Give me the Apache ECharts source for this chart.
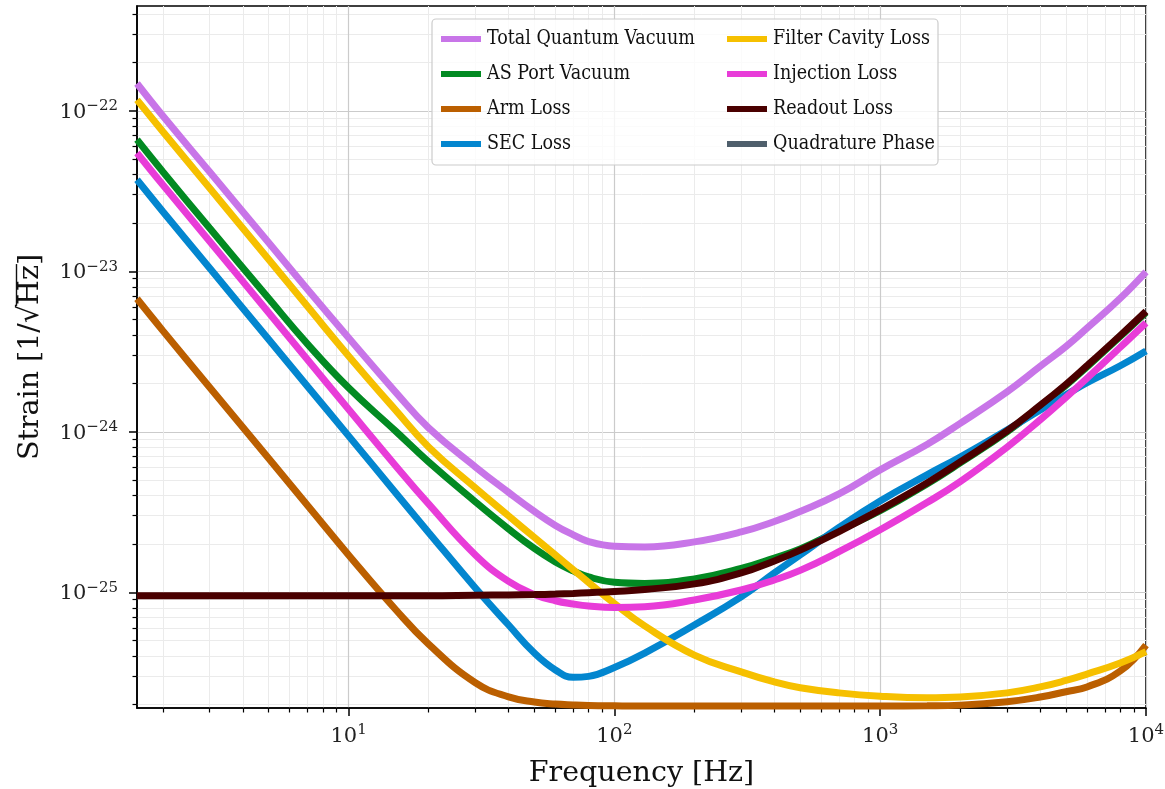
<!DOCTYPE html>
<html>
<head>
<meta charset="utf-8">
<script src="https://cdn.jsdelivr.net/npm/echarts@6/dist/echarts.min.js"></script>
<style>
  html, body { margin: 0; padding: 0; background: #fff; }
  #chart { width: 1165px; height: 789px; }
</style>
</head>
<body>
<div id="chart"></div>
<script>
// frequencies (Hz) where the curves were read
const freq = [1.6, 2, 3, 5, 7, 10, 15, 20, 30, 40, 50, 60, 70, 80, 100, 130, 200, 300, 400, 500, 700, 1000, 1500, 2000, 3000, 4000, 5000, 6000, 8000, 10000];

// strain noise, 1/sqrt(Hz)
const totalVac = [1.48e-22, 9.31e-23, 4.17e-23, 1.51e-23, 7.72e-24, 3.85e-24, 1.774e-24, 1.058e-24, 6.04e-25, 4.19e-25, 3.19e-25, 2.61e-25, 2.28e-25, 2.07e-25, 1.935e-25, 1.916e-25, 2.06e-25, 2.376e-25, 2.76e-25, 3.19e-25, 4.10e-25, 5.79e-25, 8.34e-25, 1.129e-24, 1.774e-24, 2.56e-24, 3.40e-24, 4.42e-24, 6.79e-24, 9.93e-24];
const asPort = [6.61e-23, 4.18e-23, 1.86e-23, 6.79e-24, 3.53e-24, 1.878e-24, 1.013e-24, 6.49e-25, 3.66e-25, 2.48e-25, 1.875e-25, 1.545e-25, 1.358e-25, 1.245e-25, 1.154e-25, 1.135e-25, 1.21e-25, 1.407e-25, 1.636e-25, 1.862e-25, 2.43e-25, 3.22e-25, 4.73e-25, 6.40e-25, 9.99e-25, 1.44e-24, 1.947e-24, 2.54e-24, 3.93e-24, 5.55e-24];
const armLoss = [6.74e-24, 4.27e-24, 1.897e-24, 6.83e-25, 3.48e-25, 1.708e-25, 7.84e-26, 4.75e-26, 2.73e-26, 2.23e-26, 2.07e-26, 2.01e-26, 1.985e-26, 1.97e-26, 1.96e-26, 1.954e-26, 1.954e-26, 1.954e-26, 1.954e-26, 1.954e-26, 1.954e-26, 1.954e-26, 1.96e-26, 1.98e-26, 2.08e-26, 2.225e-26, 2.40e-26, 2.57e-26, 3.23e-26, 4.69e-26];
const secLoss = [3.72e-23, 2.36e-23, 1.047e-23, 3.77e-24, 1.92e-24, 9.43e-25, 4.19e-25, 2.36e-25, 1.064e-25, 6.25e-26, 4.18e-26, 3.28e-26, 2.95e-26, 2.99e-26, 3.40e-26, 4.18e-26, 6.25e-26, 9.35e-26, 1.319e-25, 1.708e-25, 2.535e-25, 3.71e-25, 5.39e-25, 6.97e-25, 1.027e-24, 1.369e-24, 1.70e-24, 2.02e-24, 2.58e-24, 3.19e-24];
const filterCav = [1.17e-22, 7.43e-23, 3.30e-23, 1.188e-23, 6.05e-24, 2.97e-24, 1.369e-24, 8.05e-25, 4.47e-25, 2.99e-25, 2.196e-25, 1.708e-25, 1.381e-25, 1.151e-25, 8.51e-26, 6.17e-26, 4.06e-26, 3.19e-26, 2.76e-26, 2.54e-26, 2.36e-26, 2.25e-26, 2.20e-26, 2.225e-26, 2.36e-26, 2.57e-26, 2.82e-26, 3.09e-26, 3.62e-26, 4.26e-26];
const injection = [5.46e-23, 3.46e-23, 1.54e-23, 5.53e-24, 2.82e-24, 1.38e-24, 6.17e-25, 3.55e-25, 1.708e-25, 1.168e-25, 9.69e-26, 8.85e-26, 8.45e-26, 8.21e-26, 8.04e-26, 8.13e-26, 8.95e-26, 1.033e-25, 1.193e-25, 1.368e-25, 1.79e-25, 2.45e-25, 3.62e-25, 4.89e-25, 8.01e-25, 1.188e-24, 1.641e-24, 2.156e-24, 3.36e-24, 4.77e-24];
const readout = [9.52e-26, 9.52e-26, 9.52e-26, 9.52e-26, 9.52e-26, 9.52e-26, 9.52e-26, 9.52e-26, 9.58e-26, 9.62e-26, 9.67e-26, 9.74e-26, 9.83e-26, 9.93e-26, 1.012e-25, 1.041e-25, 1.127e-25, 1.319e-25, 1.567e-25, 1.83e-25, 2.39e-25, 3.27e-25, 4.80e-25, 6.49e-25, 1.013e-24, 1.461e-24, 1.975e-24, 2.58e-24, 3.98e-24, 5.63e-24];
const quadPhase = []; // stays below the plotted range

const names = ['Total Quantum Vacuum', 'AS Port Vacuum', 'Arm Loss', 'SEC Loss',
               'Filter Cavity Loss', 'Injection Loss', 'Readout Loss', 'Quadrature Phase'];
const colors = ['#c875e8', '#028a22', '#bb5f00', '#0386cf', '#f6c000', '#e83cd8', '#4a0000', '#4f5f6c'];
const values = [totalVac, asPort, armLoss, secLoss, filterCav, injection, readout, quadPhase];

// ECharts rounds tiny log-axis ticks to zero, so the y axis works in units of 1e-26
const yUnit = 1e-26;
const yUnitExp = -26;

const xMajor = [10, 100, 1000, 10000];
const yMajor = [10, 100, 1000, 10000];  // 1e-25 ... 1e-22
const xMin = 1.6, xMax = 10000;
const yMin = 1.9, yMax = 45000;         // 1.9e-26 ... 4.5e-22

function minorTicks(lo, hi) {
  const out = [];
  for (let e = Math.floor(Math.log10(lo)); e <= Math.ceil(Math.log10(hi)); e++) {
    for (let m = 2; m <= 9; m++) {
      const v = Number((m * Math.pow(10, e)).toPrecision(3));
      if (v >= lo && v <= hi) out.push(v);
    }
  }
  return out;
}

const FONT = "'DejaVu Serif', serif";
const LFONT = "'DejaVu Serif Condensed', 'DejaVu Serif', serif";
const rich = {
  b: { fontFamily: FONT, fontSize: 21, lineHeight: 24, color: '#222', verticalAlign: 'bottom' },
  s: { fontFamily: FONT, fontSize: 15, lineHeight: 15, color: '#222', verticalAlign: 'top' }
};
function xLabel(v) {
  return '{b|10}{s|' + Math.round(Math.log10(v)) + '}';
}
function yLabel(v) {
  const e = Math.round(Math.log10(v)) + yUnitExp;
  return '{b|10}{s|' + (e < 0 ? '\u2212' + (-e) : e) + '}';
}

// y title with a bar over "Hz" under the root sign
const yTitleHead = 'Strain [1/\u221A';
const yTitleRoot = 'Hz';
const yTitleTail = ']';
const yTitleSize = 28.5;
const mctx = document.createElement('canvas').getContext('2d');
mctx.font = yTitleSize + 'px ' + FONT;
const wHead = mctx.measureText(yTitleHead).width;
const wRoot = mctx.measureText(yTitleRoot).width;
const wAll = mctx.measureText(yTitleHead + yTitleRoot + yTitleTail).width;

const chart = echarts.init(document.getElementById('chart'));

const series = names.map(function (n, i) {
  return {
    name: n,
    type: 'line',
    data: values[i].map(function (v, k) { return [freq[k], v / yUnit]; }),
    showSymbol: false,
    smooth: 0.45,
    color: colors[i],
    lineStyle: { color: colors[i], width: 7 },
    z: 2 + i * 0.01
  };
});

const legendBase = {
  orient: 'vertical',
  itemWidth: 40,
  itemHeight: 6,
  itemGap: 15,
  icon: 'rect',
  z: 6,
  textStyle: { fontFamily: LFONT, fontSize: 19.5, lineHeight: 20, color: '#111', padding: [0, 0, 0, 1] }
};

chart.setOption({
  backgroundColor: '#fff',
  animation: false,
  grid: {
    left: 137, right: 19, top: 6, bottom: 81,
    outerBoundsMode: 'none', containLabel: false,
    show: true, borderColor: '#000', borderWidth: 1.6, backgroundColor: 'transparent'
  },
  legend: [
    Object.assign({ data: names.slice(0, 4), left: 436, top: 24 }, legendBase),
    Object.assign({ data: names.slice(4), left: 722, top: 24 }, legendBase)
  ],
  graphic: [{
    type: 'rect', z: 5,
    shape: { x: 432, y: 19, width: 506, height: 146, r: 4 },
    style: { fill: 'rgba(255,255,255,0.8)', stroke: '#cccccc', lineWidth: 1.2 }
  }, {
    type: 'group', x: 31, y: 357, rotation: Math.PI / 2, z: 5,
    children: [{
      type: 'text',
      style: {
        text: yTitleHead + yTitleRoot + yTitleTail, font: yTitleSize + 'px ' + FONT,
        fill: '#111', align: 'center', verticalAlign: 'middle'
      }
    }, {
      type: 'line',
      shape: { x1: -wAll / 2 + wHead - 1, y1: -14.5, x2: -wAll / 2 + wHead + wRoot + 1, y2: -14.5 },
      style: { stroke: '#111', lineWidth: 1.4 }
    }]
  }],
  xAxis: [{
    type: 'log', min: xMin, max: xMax,
    name: 'Frequency [Hz]', nameLocation: 'middle', nameGap: 51,
    nameTextStyle: { fontFamily: FONT, fontSize: 28.5, color: '#111' },
    axisLine: { show: true, lineStyle: { color: '#000', width: 1.6 } },
    axisTick: { show: true, inside: false, length: 8, customValues: xMajor, lineStyle: { color: '#000', width: 1.5 } },
    axisLabel: { customValues: xMajor, margin: 15, formatter: xLabel, rich: rich },
    splitLine: { show: true, lineStyle: { color: '#cbcbcb', width: 1.2 } }
  }, {
    type: 'log', min: xMin, max: xMax, position: 'bottom',
    axisLine: { show: false },
    axisTick: { show: true, inside: false, length: 4.5, customValues: minorTicks(xMin, xMax), lineStyle: { color: '#000', width: 1.2 } },
    axisLabel: { show: false },
    splitLine: { show: true, lineStyle: { color: '#ebebeb', width: 1 } }
  }],
  yAxis: [{
    type: 'log', min: yMin, max: yMax,
    axisLine: { show: true, lineStyle: { color: '#000', width: 1.6 } },
    axisTick: { show: true, inside: false, length: 8, customValues: yMajor, lineStyle: { color: '#000', width: 1.5 } },
    axisLabel: { customValues: yMajor, margin: 19, formatter: yLabel, rich: rich },
    splitLine: { show: true, lineStyle: { color: '#cbcbcb', width: 1.2 } }
  }, {
    type: 'log', min: yMin, max: yMax, position: 'left',
    axisLine: { show: false },
    axisTick: { show: true, inside: false, length: 4.5, customValues: minorTicks(yMin, yMax), lineStyle: { color: '#000', width: 1.2 } },
    axisLabel: { show: false },
    splitLine: { show: true, lineStyle: { color: '#ebebeb', width: 1 } }
  }],
  series: series
});
</script>
</body>
</html>
